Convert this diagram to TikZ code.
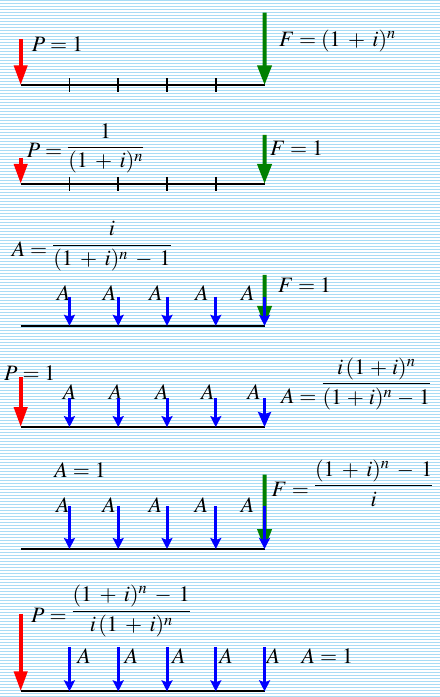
\documentclass[tikz,border=0pt]{standalone}
\usepackage{mathptmx}
\usetikzlibrary{arrows.meta}

\definecolor{stripe}{RGB}{168,220,245}
\definecolor{dgreen}{RGB}{0,128,0}

\begin{document}
\begin{tikzpicture}[
  x=1pt, y=-1pt,
  font={\fontsize{22}{26}\selectfont\medmuskip=6mu\relax},
  lbl/.style={inner sep=0pt, anchor=base west},
  timeline/.style={draw=black, line width=2pt},
  tickmark/.style={draw=black, line width=1.6pt},
  present/.style={draw=red, line width=4pt,
    -{Triangle[length=20pt, width=13pt]}},
  future/.style={draw=dgreen, line width=4pt,
    -{Triangle[length=20pt, width=14pt]}},
  annuity/.style={draw=blue, line width=3pt,
    -{Stealth[length=11pt, width=11pt, inset=2pt]}},
]

% striped background
\fill[white] (0,0) rectangle (440,697);
\foreach \y in {0,3,...,696}
  \fill[stripe] (0,\y) rectangle (440,\y+1.4);
\useasboundingbox (0,0) rectangle (440,697);

% six time lines, periods 0..5
\foreach \p/\y in {1/85.3, 2/184, 3/326, 4/427.3, 5/549.3, 6/691.7} {
  \foreach \k in {0,...,5}
    \coordinate (t\p-\k) at (20.7+48.8*\k, \y);
  \draw[timeline] (t\p-0) -- (t\p-5);
}
\foreach \p in {1,2}
  \foreach \k in {1,...,4}
    \draw[tickmark] ([yshift=7pt]t\p-\k) -- ([yshift=-7pt]t\p-\k);

% 1: F given P
\coordinate (p1top) at (20.7, 39);
\coordinate (f1top) at (264.7, 12.7);
\draw[present] (p1top) -- (t1-0);
\draw[future] (f1top) -- (t1-5);
\node[lbl] (p1lbl) at (31.7, 52) {$P = 1$};
\node[lbl] (f1lbl) at (279, 47) {$F = (1 + i)^n$};

% 2: P given F
\coordinate (p2top) at (20.7, 157.7);
\coordinate (f2top) at (264.7, 135);
\draw[present] (p2top) -- (t2-0);
\draw[future] (f2top) -- (t2-5);
\node[lbl] (p2lbl) at (26.7, 158)
  {$P = \raisebox{5pt}{$\displaystyle\frac{1}{(1 + i)^n}$}$};
\node[lbl] (f2lbl) at (270, 155.7) {$F = 1$};

% 3: A given F
\node[lbl] (a3lbl) at (11.7, 256.7)
  {$A = \raisebox{6pt}{$\displaystyle\frac{i}{(1 + i)^n - 1}$}$};
\node[lbl] (f3lbl) at (278, 292.7) {$F = 1$};
\coordinate (f3top) at (264.7, 275);
\draw[future] (f3top) -- (t3-5);
\foreach \k in {1,...,5} {
  \node[lbl] (a3-\k) at (10.6+46.1*\k, 301) {$A$};
  \coordinate (b3-\k) at (20.7+48.8*\k, 296.7);
  \draw[annuity] (b3-\k) -- (t3-\k);
}

% 4: A given P
\coordinate (p4top) at (20.7, 377.7);
\draw[present] (p4top) -- (t4-0);
\node[lbl] (p4lbl) at (4, 380.7) {$P = 1$};
\foreach \k in {1,...,5} {
  \node[lbl] (a4-\k) at (16.5+46.15*\k, 399.3) {$A$};
  \coordinate (b4-\k) at (20.7+48.8*\k, 398);
}
\foreach \k in {1,...,4}
  \draw[annuity] (b4-\k) -- (t4-\k);
\draw[annuity, -{Stealth[length=15pt, width=13pt, inset=2pt]}] (b4-5) -- (t4-5);
% tighter, so it fits the right edge
\node[lbl, font={\fontsize{22}{26}\selectfont\medmuskip=4mu\relax}] (a4lbl) at (281, 403.3)
  {$A = \raisebox{14pt}{$\displaystyle\frac{i\,(1 + i)^n}{(1 + i)^n - 1}$}$};

% 5: F given A
\node[lbl] (a5lbl) at (54.3, 477.7) {$A = 1$};
\node[lbl] (f5lbl) at (271.7, 496.7)
  {$F = \raisebox{5.5pt}{$\displaystyle\frac{(1 + i)^n - 1}{i}$}$};
\coordinate (f5top) at (264.7, 475);
\draw[future] (f5top) -- (t5-5);
\foreach \k in {1,...,5} {
  \node[lbl] (a5-\k) at (9.8+46.2*\k, 512.7) {$A$};
  \coordinate (b5-\k) at (20.7+48.8*\k, 506.7);
  \draw[annuity] (b5-\k) -- (t5-\k);
}

% 6: P given A
\coordinate (p6top) at (20.7, 614.3);
\draw[present] (p6top) -- (t6-0);
\node[lbl] (p6lbl) at (31, 623.3)
  {$P = \raisebox{6.5pt}{$\displaystyle\frac{(1 + i)^n - 1}{i\,(1 + i)^n}$}$};
\foreach \k in {1,...,5} {
  \node[lbl] (a6-\k) at (30+47.3*\k, 664) {$A$};
  \coordinate (b6-\k) at (20.7+48.8*\k, 647.3);
  \draw[annuity] (b6-\k) -- (t6-\k);
}
\node[lbl] (a6lbl) at (301.7, 664) {$A = 1$};

\end{tikzpicture}
\end{document}
